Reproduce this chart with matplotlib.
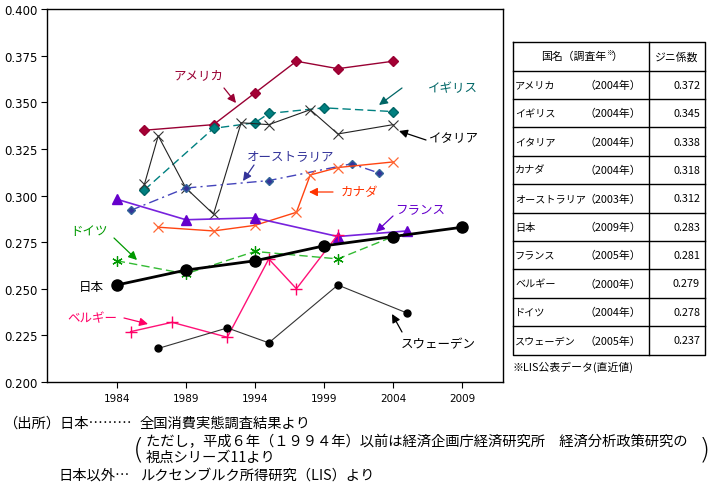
import matplotlib
matplotlib.use("Agg")
import matplotlib.pyplot as plt
from matplotlib.ticker import FixedLocator, FormatStrFormatter

plt.rcParams['font.family'] = ['Noto Sans CJK JP', 'DejaVu Sans']

# ---------------- data ----------------
usa_x = [1986, 1991, 1994, 1997, 2000, 2004]
usa_y = [0.335, 0.338, 0.355, 0.372, 0.368, 0.372]
uk_x = [1986, 1991, 1994, 1995, 1999, 2004]
uk_y = [0.303, 0.336, 0.339, 0.344, 0.347, 0.345]
ita_x = [1986, 1987, 1989, 1991, 1993, 1995, 1998, 2000, 2004]
ita_y = [0.306, 0.332, 0.304, 0.290, 0.339, 0.338, 0.346, 0.333, 0.338]
aus_x = [1985, 1989, 1995, 2001, 2003]
aus_y = [0.292, 0.304, 0.308, 0.317, 0.312]
can_x = [1987, 1991, 1994, 1997, 1998, 2000, 2004]
can_y = [0.283, 0.281, 0.284, 0.291, 0.311, 0.315, 0.318]
fra_x = [1984, 1989, 1994, 2000, 2005]
fra_y = [0.298, 0.287, 0.288, 0.278, 0.281]
bel_x = [1985, 1988, 1992, 1995, 1997, 2000]
bel_y = [0.227, 0.232, 0.224, 0.266, 0.250, 0.279]
ger_x = [1984, 1989, 1994, 2000, 2004]
ger_y = [0.265, 0.258, 0.270, 0.266, 0.278]
jpn_x = [1984, 1989, 1994, 1999, 2004, 2009]
jpn_y = [0.252, 0.260, 0.265, 0.273, 0.278, 0.283]
swe_x = [1987, 1992, 1995, 2000, 2005]
swe_y = [0.218, 0.229, 0.221, 0.252, 0.237]

x_ticks = [1984, 1989, 1994, 1999, 2004, 2009]
y_ticks = [0.200, 0.225, 0.250, 0.275, 0.300, 0.325, 0.350, 0.375, 0.400]

table_names = ["アメリカ", "イギリス", "イタリア", "カナダ", "オーストラリア",
               "日本", "フランス", "ベルギー", "ドイツ", "スウェーデン"]
table_years = ["2004", "2004", "2004", "2004", "2003",
               "2009", "2005", "2000", "2004", "2005"]
table_vals = ["0.372", "0.345", "0.338", "0.318", "0.312",
              "0.283", "0.281", "0.279", "0.278", "0.237"]

# ---------------- figure ----------------
W, H = 713, 489
fig = plt.figure(figsize=(W / 100, H / 100), dpi=100)
fig.patch.set_facecolor("white")

L, R, T, B = 47, 503, 10, 383
ax = fig.add_axes([L / W, 1 - B / H, (R - L) / W, (B - T) / H])
ax.set_xlim(1978.95, 2011.95)
ax.set_ylim(0.200, 0.400)
ax.xaxis.set_major_locator(FixedLocator(x_ticks))
ax.yaxis.set_major_locator(FixedLocator(y_ticks))
ax.yaxis.set_major_formatter(FormatStrFormatter('%.3f'))
ax.tick_params(direction='out', length=4, width=0.8, colors='black')
ax.tick_params(axis='y', labelsize=8.5, pad=3)
ax.tick_params(axis='x', labelsize=7.5, pad=4)
for lab in ax.get_yticklabels() + ax.get_xticklabels():
    lab.set_fontfamily('DejaVu Sans')
for s in ax.spines.values():
    s.set_linewidth(1.0)
    s.set_color('black')

ax.plot(usa_x, usa_y, color='#990033', lw=1.0, marker='D', ms=5, mfc='#A50034', mec='#990033', zorder=3)
ax.plot(uk_x, uk_y, color='#008080', lw=1.0, ls=(0, (6, 3)), marker='D', ms=5.5, mfc='#008080', mec='#006666', zorder=3)
ax.plot(ita_x, ita_y, color='#222222', lw=0.8, marker='x', ms=7, mew=0.8, mec='#333333', zorder=3)
ax.plot(aus_x, aus_y, color='#4444BB', lw=1.0, ls=(0, (7, 3, 1.5, 3)), marker='D', ms=4.5, mfc='#333399', mec='#336699', zorder=3)
ax.plot(can_x, can_y, color='#FF4411', lw=1.0, marker='x', ms=7, mew=0.9, mec='#FF6633', zorder=3)
ax.plot(fra_x, fra_y, color='#7722DD', lw=1.2, marker='^', ms=7, mfc='#6600CC', mec='#6600CC', zorder=3)
ax.plot(bel_x, bel_y, color='#FF1177', lw=1.0, marker='+', ms=8, mew=1.0, mec='#FF0066', zorder=3)
ax.plot(ger_x, ger_y, color='#33BB33', lw=1.0, ls=(0, (6, 3)), marker=(6, 2, 0), ms=7.5, mew=0.9, mec='#009900', zorder=3)
ax.plot(swe_x, swe_y, color='#333333', lw=0.8, marker='o', ms=5, mfc='black', mec='black', zorder=3)
ax.plot(jpn_x, jpn_y, color='black', lw=2.0, marker='o', ms=8, mfc='black', mec='black', zorder=4)

# ---------------- overlay (pixel coordinates) ----------------
ov = fig.add_axes([0, 0, 1, 1], facecolor='none')
ov.set_xlim(0, W)
ov.set_ylim(H, 0)
ov.axis('off')

fs_ann = 9
labels = [
    ("アメリカ", 198, 76, '#990033', (224, 89), (236, 104)),
    ("イギリス", 453, 89, '#006666', (402, 89), (379, 106)),
    ("イタリア", 454, 139, 'black', (426, 141), (399, 132)),
    ("オーストラリア", 291, 157, '#333399', (254, 166), (243, 182)),
    ("カナダ", 359, 193, '#FF3300', (333, 193), (309, 193)),
    ("フランス", 420, 211, '#6600CC', (393, 217), (376, 233)),
    ("ドイツ", 89, 232, '#009900', (114, 239), (137, 261)),
    ("日本", 91, 287, 'black', None, None),
    ("ベルギー", 92, 319, '#FF0066', (124, 319), (148, 325)),
    ("スウェーデン", 438, 345, 'black', (402, 333), (392, 315)),
]
for txt, tx, ty, col, p0, p1 in labels:
    ov.text(tx, ty, txt, color=col, fontsize=fs_ann, ha='center', va='center')
    if p0 is not None:
        ov.annotate("", xy=p1, xytext=p0,
                    arrowprops=dict(arrowstyle='-|>,head_length=0.5,head_width=0.25',
                                    color=col, lw=0.9, shrinkA=0, shrinkB=0))

# ---------------- table ----------------
x0, x1, x2 = 513, 649, 705
top, hh, rh = 42.5, 29, 28.4
n = len(table_names)
bottom = top + hh + rh * n
lw_t = 1.0
ov.plot([x0, x2, x2, x0, x0], [top, top, bottom, bottom, top], color='black', lw=lw_t)
ov.plot([x1, x1], [top, bottom], color='black', lw=lw_t)
for i in range(n):
    yy = top + hh + rh * i
    ov.plot([x0, x2], [yy, yy], color='black', lw=lw_t)

fs_t = 7.8
fs_n = 7.3
hy = top + hh / 2
ov.text(606, hy, "国名（調査年", fontsize=fs_t, ha='right', va='center')
ov.text(606, hy - 4, "※", fontsize=5, ha='left', va='center')
ov.text(612, hy, "）", fontsize=fs_t, ha='left', va='center')
ov.text((x1 + x2) / 2, hy, "ジニ係数", fontsize=fs_t, ha='center', va='center')
for i in range(n):
    cy = top + hh + rh * i + rh / 2
    ov.text(515, cy, table_names[i], fontsize=fs_n, ha='left', va='center')
    ov.text(641, cy, "（" + table_years[i] + "年）", fontsize=fs_t, ha='right', va='center')
    ov.text(700, cy, table_vals[i], fontsize=fs_t, ha='right', va='center')
ov.text(513, bottom + 12, "※LIS公表データ(直近値)", fontsize=fs_t, ha='left', va='center')

# ---------------- footer ----------------
fs_f = 10.3
ov.text(3, 424, "（出所）日本………", fontsize=fs_f, ha='left', va='center')
ov.text(140, 424, "全国消費実態調査結果より", fontsize=fs_f, ha='left', va='center')
ov.text(146, 442, "ただし，平成６年（１９９４年）以前は経済企画庁経済研究所　経済分析政策研究の",
        fontsize=fs_f, ha='left', va='center')
ov.text(146, 458, "視点シリーズ11より", fontsize=fs_f, ha='left', va='center')
ov.text(139, 450, "(", fontsize=21, ha='center', va='center', fontfamily='DejaVu Sans', fontweight='light')
ov.text(704, 450, ")", fontsize=21, ha='center', va='center', fontfamily='DejaVu Sans', fontweight='light')
ov.text(58, 476, "日本以外…", fontsize=fs_f, ha='left', va='center')
ov.text(140, 476, "ルクセンブルク所得研究（LIS）より", fontsize=fs_f, ha='left', va='center')

fig.savefig("out.png", dpi=100, facecolor='white')
